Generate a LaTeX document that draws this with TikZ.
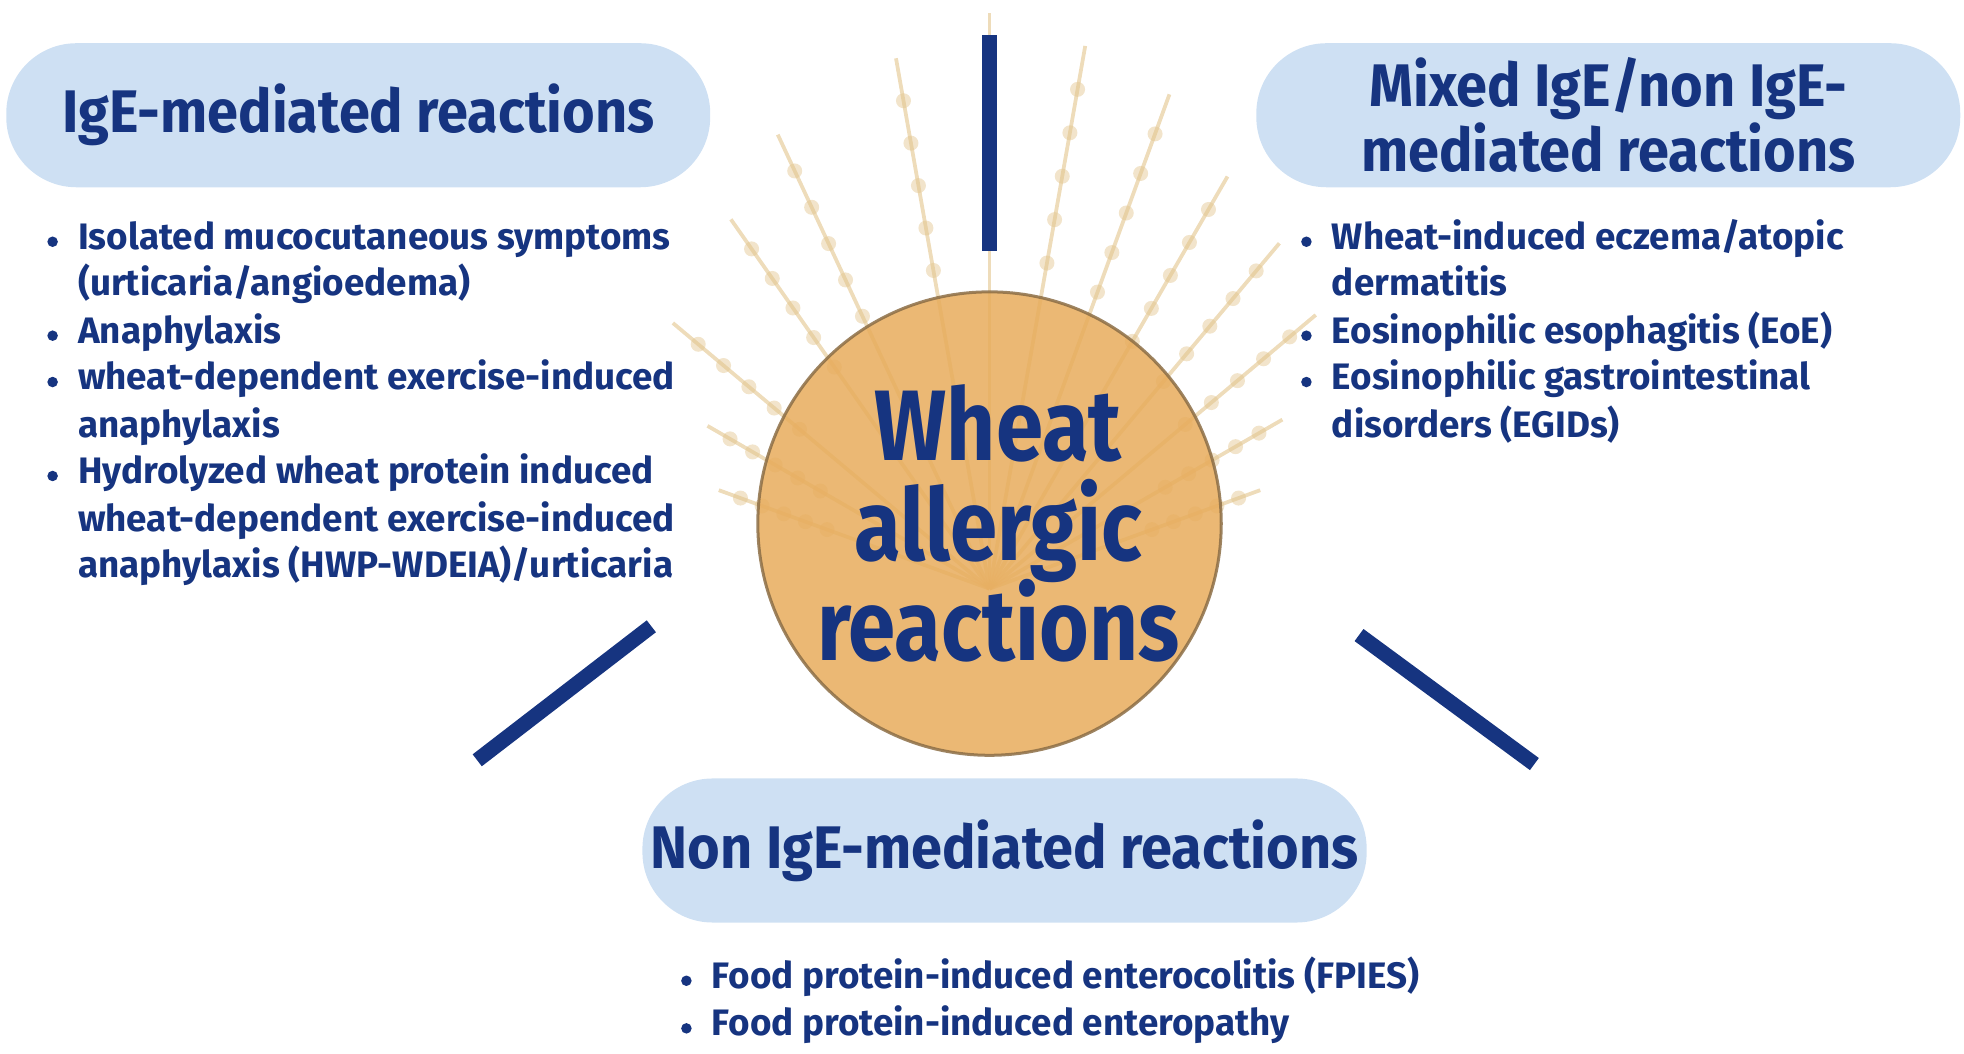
\documentclass[tikz,border=0pt]{standalone}
\usepackage{fontspec}
\usetikzlibrary{calc}
\setmainfont{Fira Sans}
\newfontfamily\hdr[FakeStretch=0.93]{Fira Sans}
\newfontfamily\ctr[FakeStretch=0.85]{Fira Sans}
\newfontfamily\bod{Fira Sans}
\definecolor{navy}{RGB}{22,52,128}
\definecolor{boxblue}{RGB}{206,224,243}
\definecolor{orangec}{RGB}{232,172,92}
\definecolor{ringc}{RGB}{140,110,70}
\definecolor{straw}{RGB}{226,196,140}
\tikzset{
 hbox/.style={fill=boxblue,rounded corners=28pt,minimum width=281pt,minimum height=57.5pt,text=navy,font=\hdr\bfseries\fontsize{24}{26}\selectfont,align=center},
 itm/.style={anchor=base west,text=navy,font=\bod\bfseries\fontsize{14.7}{16}\selectfont,inner sep=0},
 bul/.style={circle,fill=navy,inner sep=0,minimum size=4.2pt},
 spoke/.style={draw=navy,line width=6pt},
 stalk/.style={draw=straw,line width=1.5pt,opacity=0.6},
 grain/.style={fill=straw,opacity=0.45}
}
\begin{document}
\begin{tikzpicture}[x=0.5pt,y=-0.5pt]
\useasboundingbox (0,0) rectangle (1568,841);
% wheat stalks
\foreach \a/\l in {-100/430,-90/460,-80/440,-70/420,-60/380,-115/400,-125/360,-50/360,-140/330,-40/340,-150/260,-30/270,-160/230,-20/230}{
  \draw[stalk] (790,470) -- ++(\a:\l);
  \foreach \t in {0.6,0.68,0.76,0.84,0.92}{
    \fill[grain] ($(790,470)+(\a:\t*\l)$) ellipse[x radius=6,y radius=6];
  }
}
\node[circle,fill=orangec,draw=ringc,line width=1.2pt,minimum size=185pt,opacity=0.85] (c) at (790,418) {};
\node[text=navy,font=\ctr\bfseries\fontsize{40}{42}\selectfont,align=center] (ct) at (797,418) {Wheat\\[-2pt]allergic\\[-2pt]reactions};
% spokes
\coordinate (v1) at (790,28); \coordinate (v2) at (790,200);
\draw[spoke] (v1) -- (v2);
\coordinate (l1) at (520,500); \coordinate (l2) at (381,607);
\draw[spoke] (l1) -- (l2);
\coordinate (r1) at (1085,507); \coordinate (r2) at (1225,610);
\draw[spoke] (r1) -- (r2);
% boxes
\node[hbox] (b1) at (286,92) {IgE-mediated reactions};
\node[hbox,font=\hdr\bfseries\fontsize{24}{22}\selectfont] (b2) at (1284,92) {Mixed IgE/non IgE-\\mediated reactions};
\node[hbox] (b3) at (802,679) {Non IgE-mediated reactions};
% left items
\foreach \y/\b/\t in {199/1/{Isolated mucocutaneous symptoms},236/0/{(urticaria/angioedema)},274/1/{Anaphylaxis},311/1/{wheat-dependent exercise-induced},349/0/{anaphylaxis},386/1/{Hydrolyzed wheat protein induced},424/0/{wheat-dependent exercise-induced},461/0/{anaphylaxis (HWP-WDEIA)/urticaria}}{
  \node[itm] (L\y) at (62,\y) {\t};
  \ifnum\b=1 \node[bul] (LB\y) at (42,\y-6) {};\fi
}
\foreach \y/\b/\t in {199/1/{Wheat-induced eczema/atopic},236/0/{dermatitis},274/1/{Eosinophilic esophagitis (EoE)},311/1/{Eosinophilic gastrointestinal},349/0/{disorders (EGIDs)}}{
  \node[itm] (R\y) at (1063,\y) {\t};
  \ifnum\b=1 \node[bul] (RB\y) at (1043,\y-6) {};\fi
}
\foreach \y/\t in {789/{Food protein-induced enterocolitis (FPIES)},827/{Food protein-induced enteropathy}}{
  \node[itm] (B\y) at (568,\y) {\t};
  \node[bul] (BB\y) at (548,\y-6) {};
}
\end{tikzpicture}
\end{document}
